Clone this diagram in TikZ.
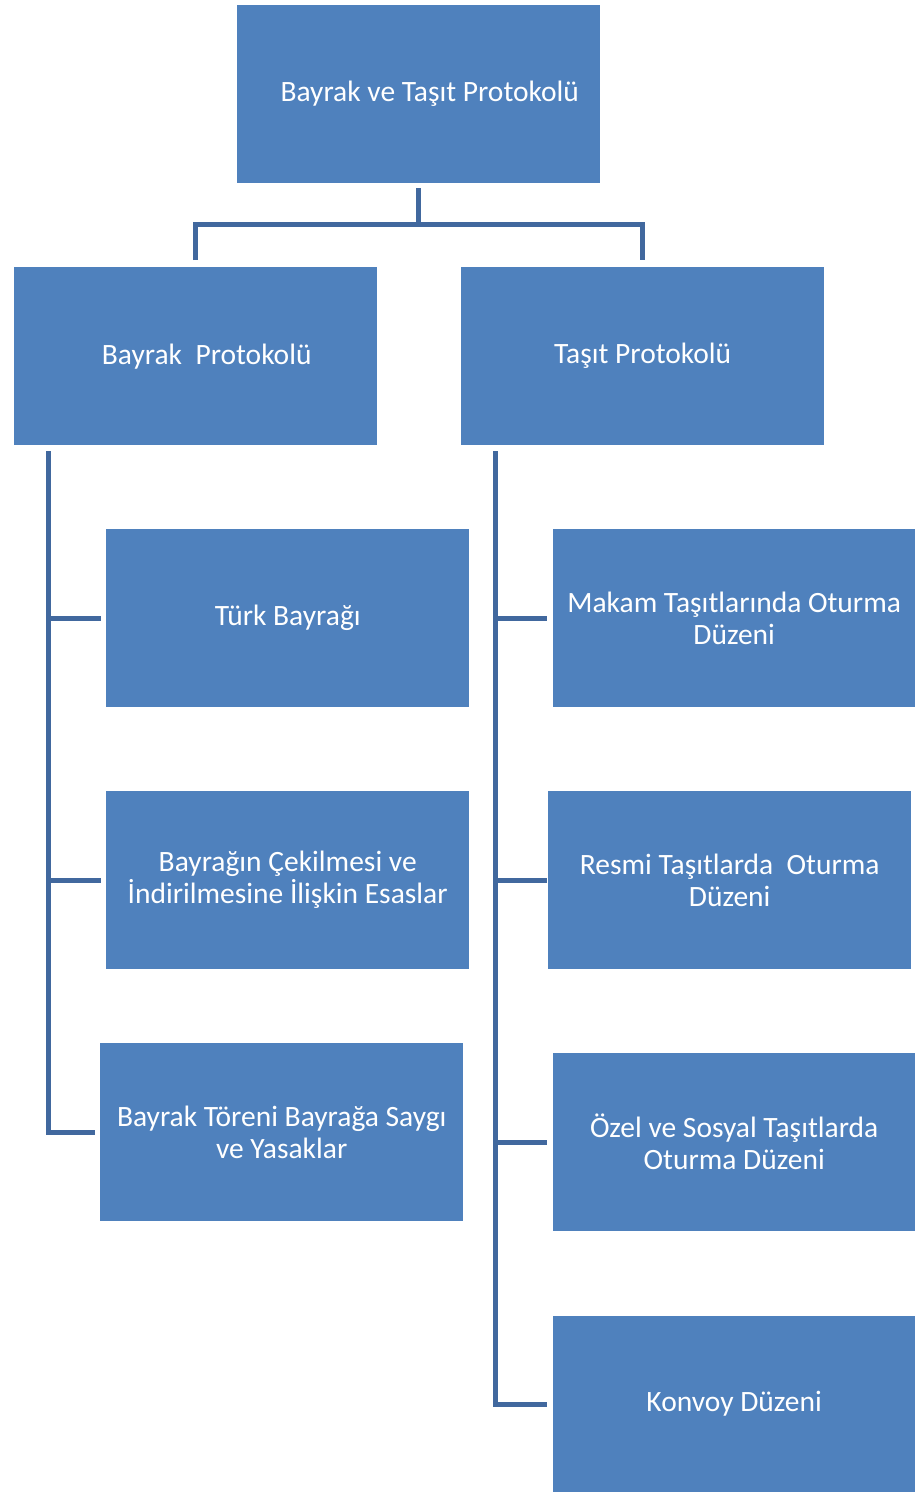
\documentclass[tikz,border=0pt]{standalone}
\usepackage{fontspec}
\setmainfont{Carlito}
\definecolor{boxblue}{HTML}{4F81BD}
\definecolor{lineblue}{HTML}{41689E}
\begin{document}
\begin{tikzpicture}[
			x=1pt, y=-1pt,
			box/.style={rectangle, fill=boxblue, text=white, anchor=north west,
					minimum width=363pt, minimum height=178pt, inner sep=0pt,
					align=center, font=\fontsize{29.5}{32}\selectfont},
			conn/.style={draw=lineblue, line width=5pt, line join=miter}
		]
		\useasboundingbox (0,0) rectangle (915,1492);
		\node[box] (top) at (237,5) {\hspace*{22pt}Bayrak ve Taşıt Protokolü};
		\node[box] (bayrak) at (14,267) {\hspace*{22pt}Bayrak\ \ Protokolü};
		\node[box] (tasit) at (461,267) {Taşıt Protokolü};
		% left column
		\node[box] (turk) at (106,529) {Türk Bayrağı};
		\node[box] (cekilme) at (106,791) {Bayrağın Çekilmesi ve\\İndirilmesine İlişkin Esaslar};
		\node[box] (toren) at (100,1043) {Bayrak Töreni Bayrağa Saygı\\ve Yasaklar};
		% right column
		\node[box, minimum width=362pt] (makam) at (553,529) {Makam Taşıtlarında Oturma\\Düzeni};
		\node[box] (resmi) at (548,791) {Resmi Taşıtlarda\ \ Oturma\\Düzeni};
		\node[box, minimum width=362pt] (ozel) at (553,1053) {Özel ve Sosyal Taşıtlarda\\Oturma Düzeni};
		\node[box, minimum width=362pt, minimum height=176pt] (konvoy) at (553,1316) {Konvoy Düzeni};
		% top level
		\draw[conn] ([yshift=-5pt]top.south) -- ++(0,36) coordinate (mid);
		\draw[conn] ([yshift=7pt]bayrak.north) |- (mid) -| ([yshift=7pt]tasit.north);
		% left spine
		\coordinate (spineL) at ([xshift=34pt,yshift=-6pt]bayrak.south west);
		\draw[conn] (spineL) |- ([xshift=-5pt]toren.west);
		\draw[conn] (turk.west -| spineL) -- ([xshift=-5pt]turk.west);
		\draw[conn] (cekilme.west -| spineL) -- ([xshift=-5pt]cekilme.west);
		% right spine
		\coordinate (spineR) at ([xshift=34pt,yshift=-6pt]tasit.south west);
		\draw[conn] (spineR) |- ([xshift=-6pt]konvoy.west);
		\draw[conn] (makam.west -| spineR) -- ([xshift=-6pt]makam.west);
		\draw[conn] (resmi.west -| spineR) -- ([xshift=-1pt]resmi.west);
		\draw[conn] (ozel.west -| spineR) -- ([xshift=-6pt]ozel.west);
	\end{tikzpicture}
\end{document}
